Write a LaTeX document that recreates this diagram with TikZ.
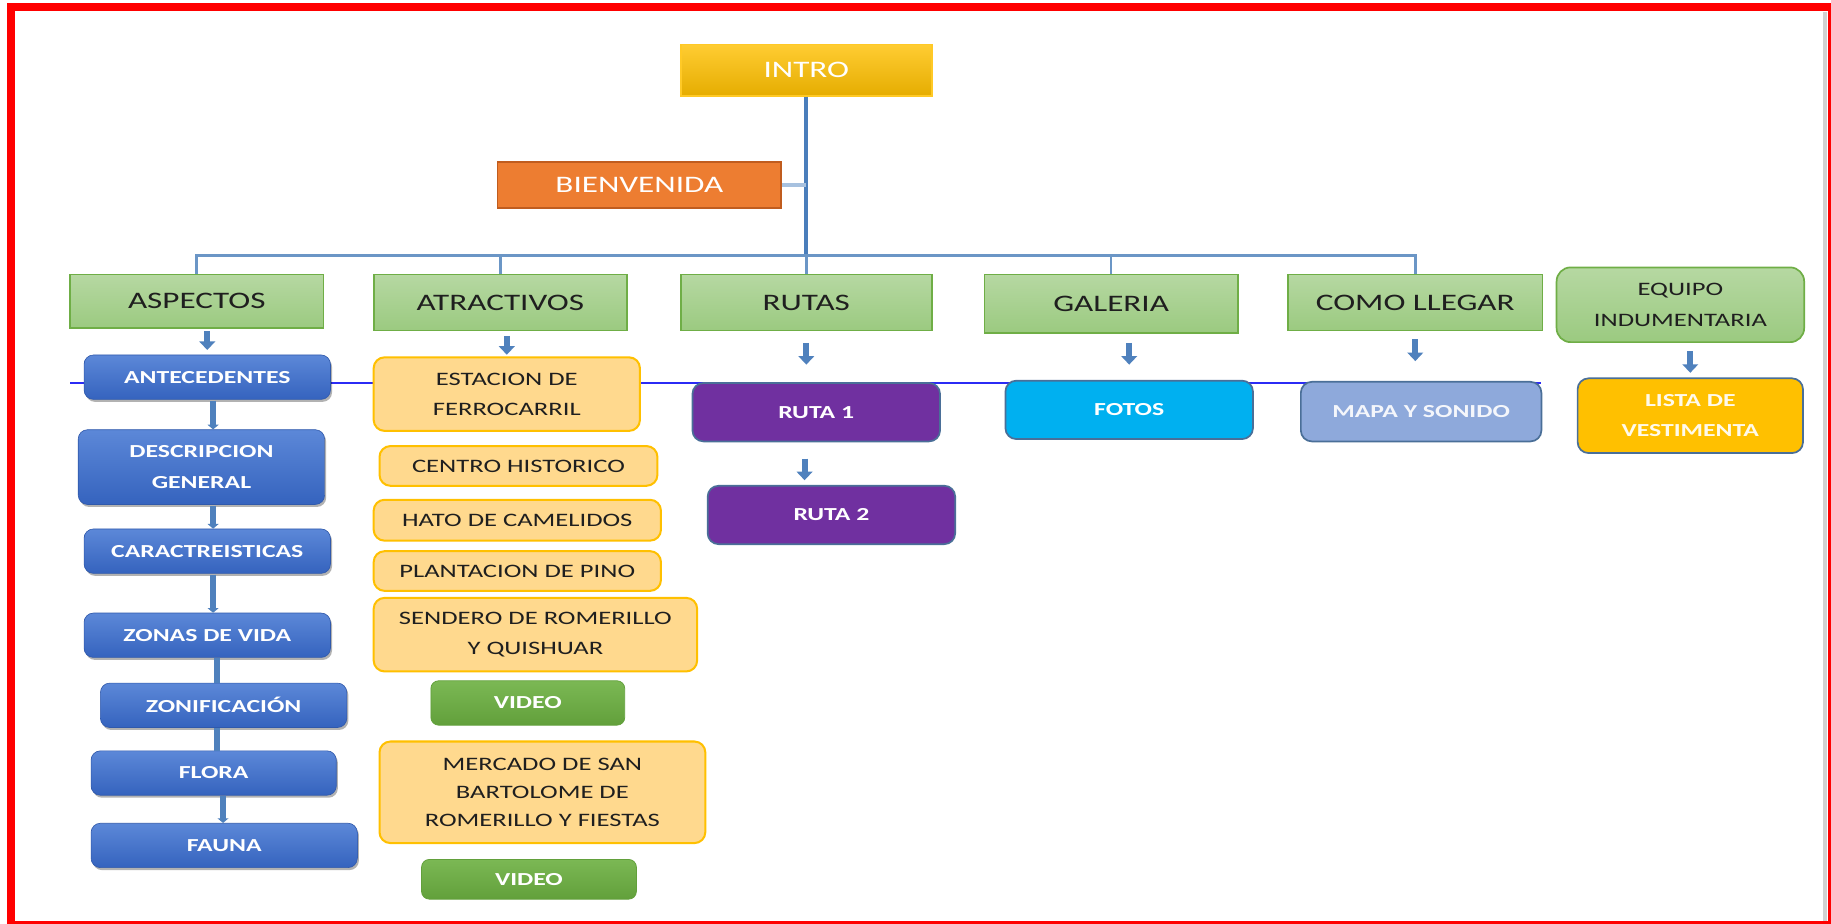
\documentclass[tikz,border=0pt]{standalone}
\usepackage{fontspec}
\setmainfont{Carlito}[FakeStretch=1.4]
\usetikzlibrary{arrows.meta,calc,shadows}
\definecolor{gtop}{HTML}{B6D8A2}
\definecolor{gbot}{HTML}{9BCA80}
\definecolor{gborder}{HTML}{6FAE46}
\definecolor{btop}{HTML}{5C88D8}
\definecolor{bbot}{HTML}{3563BE}
\definecolor{oranfill}{HTML}{FFD98E}
\definecolor{oranline}{HTML}{FFC000}
\definecolor{vtop}{HTML}{7BB854}
\definecolor{vbot}{HTML}{62A03B}
\definecolor{purp}{HTML}{7030A0}
\definecolor{cyanb}{HTML}{00B0F0}
\definecolor{mapab}{HTML}{8EA9DB}
\definecolor{listab}{HTML}{FFC000}
\definecolor{edge}{HTML}{4A6F98}
\definecolor{trunkc}{HTML}{4A7EBB}
\definecolor{branchc}{HTML}{6B96C6}
\definecolor{bienc}{HTML}{A7C1DF}
\definecolor{arrc}{HTML}{4F81BD}
\definecolor{blueln}{HTML}{2B2BF5}
\definecolor{bienfill}{HTML}{ED7D31}
\definecolor{bienline}{HTML}{C05C1E}
\newcommand\fbig{\fontsize{15.2}{18}\selectfont}
\newcommand\fsmall{\fontsize{12.2}{19.5}\selectfont}
\newcommand\fsmallb{\fontsize{11.8}{19.5}\selectfont\bfseries}
\begin{document}
\begin{tikzpicture}[x=0.75pt,y=-0.75pt,
  wh/.style 2 args={minimum width={#1*0.75pt}, minimum height={#2*0.75pt}, inner sep=0pt, align=center},
  greenbox/.style={draw=gborder, line width=1.1pt, top color=gtop, bottom color=gbot, text=black!88, font=\fbig},
  bluebox/.style={rounded corners=6pt, top color=btop, bottom color=bbot, draw=bbot!90!black, line width=0.4pt, text=white, font=\fsmallb,
     drop shadow={shadow xshift=1pt, shadow yshift=-1.6pt, opacity=0.3, fill=black}},
  oranbox/.style={rounded corners=7pt, fill=oranfill, draw=oranline, line width=1.3pt, text=black!88, font=\fsmall},
  videobox/.style={rounded corners=5pt, top color=vtop, bottom color=vbot, draw=vbot, line width=0.5pt, text=white, font=\fsmallb},
  colbox/.style={rounded corners=7pt, fill=#1, draw=edge, line width=1.1pt, text=white, font=\fsmallb},
  trunk/.style={draw=trunkc, line width=2.5pt},
  branch/.style={draw=branchc, line width=1.7pt},
  barrow/.style={draw=arrc, line width=3.8pt, -{Triangle[width=10pt,length=5.5pt]}},
  vtip/.style={draw=arrc, line width=3.8pt, -{Triangle[width=7pt,length=3pt]}},
  vplain/.style={draw=arrc, line width=3.8pt},
]
\useasboundingbox (0,0) rectangle (1568,791);
\fill[white] (0,0) rectangle (1568,791);
% frame
\draw[draw=black!18, line width=2.5pt] (1563,10) -- (1563,790);
\draw[red, line width=5.1pt] (9.4,6) rectangle (1569,792);

% horizontal blue guide line
\coordinate (gl1) at (60,328);
\coordinate (gl2) at (1320,328);
\draw[blueln, line width=1.6pt] (gl1) -- (gl2);

% top
\node[wh={215}{44}, draw=oranline!85!white, line width=1pt, top color=oranline!80!white, bottom color=oranline!90!black, text=white, font=\fbig] (intro) at (690.5,60) {INTRO};
\node[wh={243}{39}, fill=bienfill, draw=bienline, line width=1.1pt, text=white, font=\fbig] (bienvenida) at (547.5,158.5) {BIENVENIDA};

% second row
\node[greenbox, wh={217}{46}] (aspectos) at (168.5,258) {ASPECTOS};
\node[greenbox, wh={217}{48}] (atractivos) at (428.5,259) {ATRACTIVOS};
\node[greenbox, wh={215}{48}] (rutas) at (690.5,259) {RUTAS};
\node[greenbox, wh={217}{50}] (galeria) at (951.5,260) {GALERIA};
\node[greenbox, wh={218}{48}] (comollegar) at (1212,259) {COMO LLEGAR};
\node[greenbox, wh={212}{64}, rounded corners=9pt, font=\fsmall] (equipo) at (1439,261) {EQUIPO\\INDUMENTARIA};

% tree
\coordinate (bar) at ($(intro.south)+(0,136)$);
\draw[trunk] (intro.south) -- (bar);
\draw[draw=bienc, line width=2.6pt] (bienvenida.east) -- (bienvenida.east -| intro.south);
\foreach \n in {aspectos,atractivos,galeria,comollegar}
  \draw[branch] (bar) -| (\n.north);
\draw[branch] (bar) -- (rutas.north);

% aspectos column
\node[bluebox, wh={211}{38}] (antecedentes) at (177.5,323) {ANTECEDENTES};
\node[bluebox, wh={211}{64}] (descripcion) at (172.5,400) {DESCRIPCION\\GENERAL};
\node[bluebox, wh={211}{38}] (caract) at (177.5,472) {CARACTREISTICAS};
\node[bluebox, wh={211}{38}] (zonas) at (177.5,544) {ZONAS DE VIDA};
\node[bluebox, wh={211}{38}] (zonif) at (191.5,604) {ZONIFICACIÓN};
\node[bluebox, wh={210}{38}] (flora) at (183,662) {FLORA};
\node[bluebox, wh={228}{38}] (fauna) at (192,724) {FAUNA};

% atractivos column
\node[oranbox, wh={228}{63}] (estacion) at (434,337.5) {ESTACION DE\\FERROCARRIL};
\node[oranbox, wh={238}{34}] (centro) at (444,399) {CENTRO HISTORICO};
\node[oranbox, wh={246}{35}] (hato) at (443,445.5) {HATO DE CAMELIDOS};
\node[oranbox, wh={246}{34}] (plantacion) at (443,489) {PLANTACION DE PINO};
\node[oranbox, wh={277}{63}] (sendero) at (458.5,543.5) {SENDERO DE ROMERILLO\\Y QUISHUAR};
\node[videobox, wh={166}{38}] (video1) at (452,602) {VIDEO};
\node[oranbox, wh={279}{87}, font=\fontsize{12.2}{18}\selectfont] (mercado) at (464.5,678.5) {MERCADO DE SAN\\BARTOLOME DE\\ROMERILLO Y FIESTAS};
\node[videobox, wh={184}{34}] (video2) at (453,753) {VIDEO};

% other columns
\node[colbox=purp, wh={212}{50}] (ruta1) at (699,353) {RUTA 1};
\node[colbox=purp, wh={212}{50}] (ruta2) at (712,441) {RUTA 2};
\node[colbox=cyanb, wh={212}{50}] (fotos) at (967,351) {FOTOS};
\node[colbox=mapab, wh={206}{51}, text=white!90!mapab] (mapa) at (1217,352.5) {MAPA Y SONIDO};
\node[colbox=listab, wh={193}{64}, text=white!92!listab] (lista) at (1447.5,356) {LISTA DE\\VESTIMENTA};

% block arrows
\draw[barrow, shorten <=1.5pt, shorten >=3pt] (aspectos.south -| antecedentes.north) -- (antecedentes.north);
\draw[barrow, shorten <=3pt, shorten >=1pt] (atractivos.south -| estacion.north) -- (estacion.north);
\draw[barrow, shorten <=7.5pt, shorten >=11.25pt] (rutas.south) -- (rutas.south |- ruta1.north);
\draw[barrow, shorten <=6pt, shorten >=9.75pt] (fotos.north |- galeria.south) -- (fotos.north);
\draw[barrow, shorten <=5.25pt, shorten >=12.75pt] (comollegar.south) -- (comollegar.south |- mapa.north);
\draw[barrow, shorten <=5.25pt, shorten >=3pt] (lista.north |- equipo.south) -- (lista.north);
\coordinate (r1a) at ($(ruta1.south)+(-10,0)$);
\draw[barrow, shorten <=10.5pt, shorten >=3pt] (r1a) -- (r1a |- ruta2.north);

% aspectos column connectors
\coordinate (k1) at ($(antecedentes.south)+(5,0)$);
\draw[vtip, shorten <=0.6pt] (k1) -- (k1 |- descripcion.north);
\coordinate (k2) at ($(descripcion.south)+(10,0)$);
\draw[vtip, shorten <=0.6pt] (k2) -- (k2 |- caract.north);
\coordinate (k3) at ($(caract.south)+(5,0)$);
\draw[vtip, shorten <=0.6pt] (k3) -- (k3 |- zonas.north);
\coordinate (k4) at ($(zonas.south)+(8,0)$);
\draw[vplain] (k4) -- (k4 |- zonif.north);
\coordinate (k5) at ($(zonif.south)+(-6,0)$);
\draw[vplain] (k5) -- (k5 |- flora.north);
\coordinate (k6) at ($(flora.south)+(8,0)$);
\draw[vtip, shorten <=0.6pt] (k6) -- (k6 |- fauna.north);
\end{tikzpicture}
\end{document}
